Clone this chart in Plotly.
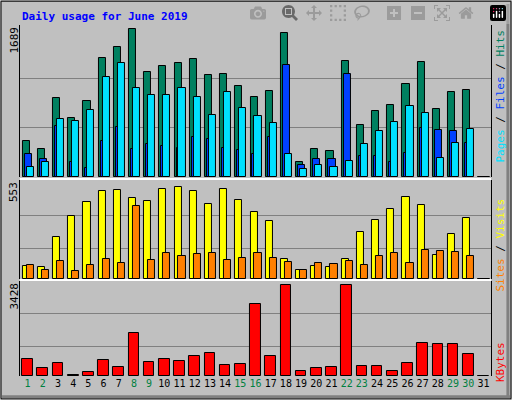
import plotly.graph_objects as go

days = list(range(1, 32))
hits = [409,319,904,668,871,1355,1479,1689,1195,1263,1297,1342,1160,1172,1036,911,979,1648,174,321,299,1319,593,752,820,1058,1308,775,968,990,0]
files = [263,206,578,173,105,409,567,321,378,355,333,457,435,333,310,265,457,1274,140,208,208,1172,242,242,174,276,559,537,525,389,0]
pages = [109,173,660,634,762,1141,1299,1013,934,934,1013,911,707,968,786,696,616,265,95,140,117,185,378,525,627,809,730,219,389,548,0]
visits = [80,74,253,379,463,529,535,487,469,541,553,529,451,541,475,403,349,122,56,80,74,122,283,355,421,493,445,146,271,367,0]
sites = [86,56,110,50,86,122,98,439,116,158,140,152,158,116,128,158,128,104,56,98,92,110,86,140,158,98,176,170,164,140,0]
kbytes = [651,313,500,50,163,613,350,1626,538,651,575,763,876,425,463,2715,763,3428,200,313,350,3428,388,388,200,500,1251,1213,1213,838,0]
weekend = [1,2,8,9,15,16,22,23,29,30]
ticktext = [f'<span style="color:#008040">{d}</span>' if d in weekend else str(d) for d in days]

BG = "#c0c0c0"
fig = go.Figure()
ln = dict(color="black", width=1)
def bar(y, color, off, w, ax):
    fig.add_trace(go.Bar(x=days, y=y, marker=dict(color=color, line=ln), width=w, offset=off,
                         xaxis="x", yaxis=ax, showlegend=False, hoverinfo="y"))
bar(hits, "#008060", -0.33, 0.47, "y")
bar(files, "#0040ff", -0.2, 0.47, "y")
bar(pages, "#00e0ff", -0.07, 0.47, "y")
bar(visits, "#ffff00", -0.33, 0.47, "y2")
bar(sites, "#ff8000", -0.07, 0.47, "y2")
bar(kbytes, "#ff0000", -0.35, 0.7, "y3")

yax = dict(showticklabels=False, ticks="", gridcolor="#808080", gridwidth=1, zeroline=False,
           showline=True, linecolor="black", mirror=True, fixedrange=True)
fig.update_layout(
    width=512, height=400, margin=dict(l=0, r=0, t=0, b=0),
    paper_bgcolor=BG, plot_bgcolor=BG, barmode="overlay", bargap=0,
    font=dict(family="DejaVu Sans Mono", size=10, color="black"),
    xaxis=dict(domain=[0.039, 0.959], range=[0.5, 31.5], tickvals=days, ticktext=ticktext,
               ticks="", showgrid=False, anchor="y3", tickfont=dict(size=10)),
    yaxis=dict(domain=[0.5575, 0.9375], range=[0, 1735], tickvals=[563, 1126], **yax),
    yaxis2=dict(domain=[0.3025, 0.55], range=[0, 593], tickvals=[182, 380], **yax),
    yaxis3=dict(domain=[0.06, 0.2975], range=[0, 3567], tickvals=[1115, 2340], **yax),
)
shapes = [
    dict(type="rect", xref="paper", yref="paper", x0=0.002, y0=0.003, x1=0.998, y1=0.997,
         line=dict(color="black", width=1)),
    dict(type="line", xref="paper", yref="paper", x0=0.004, x1=0.996, y0=0.008, y1=0.008, line=dict(color="#808080", width=3)),
    dict(type="line", xref="paper", yref="paper", x0=0.992, x1=0.992, y0=0.008, y1=0.99, line=dict(color="#808080", width=3)),
    dict(type="line", xref="paper", yref="paper", x0=0.039, x1=0.959, y0=0.5525, y1=0.5525, line=dict(color="white", width=2)),
    dict(type="line", xref="paper", yref="paper", x0=0.039, x1=0.959, y0=0.30, y1=0.30, line=dict(color="white", width=2)),
]
fig.update_layout(shapes=shapes)
ann = [
    dict(text="<b>Daily usage for June 2019</b>", x=20/512, y=1-8/400, xanchor="left", yanchor="top",
         font=dict(color="#0000ff", size=11)),
    dict(text=str(max(hits)), x=14/512, y=1-25/400, textangle=-90, xanchor="center", yanchor="top", font=dict(size=11)),
    dict(text=str(max(visits)), x=14/512, y=1-180/400, textangle=-90, xanchor="center", yanchor="top", font=dict(size=11)),
    dict(text=str(max(kbytes)), x=14/512, y=1-281/400, textangle=-90, xanchor="center", yanchor="top", font=dict(size=11)),
    dict(text='<span style="color:#00e0ff">Pages</span> / <span style="color:#0040ff">Files</span> / <span style="color:#008060">Hits</span>',
         x=500/512, y=1-28/400, textangle=-90, xanchor="center", yanchor="top", font=dict(size=11)),
    dict(text='<span style="color:#ff8000">Sites</span> / <span style="color:#ffff00">Visits</span>',
         x=500/512, y=1-197/400, textangle=-90, xanchor="center", yanchor="top", font=dict(size=11)),
    dict(text='<span style="color:#ff0000">KBytes</span>',
         x=500/512, y=1-340/400, textangle=-90, xanchor="center", yanchor="top", font=dict(size=11)),
]
for a in ann:
    a.update(xref="paper", yref="paper", showarrow=False)
fig.update_layout(annotations=ann)
fig.write_html("out.html", post_script="document.body.style.margin='0';document.body.style.overflow='hidden';")
